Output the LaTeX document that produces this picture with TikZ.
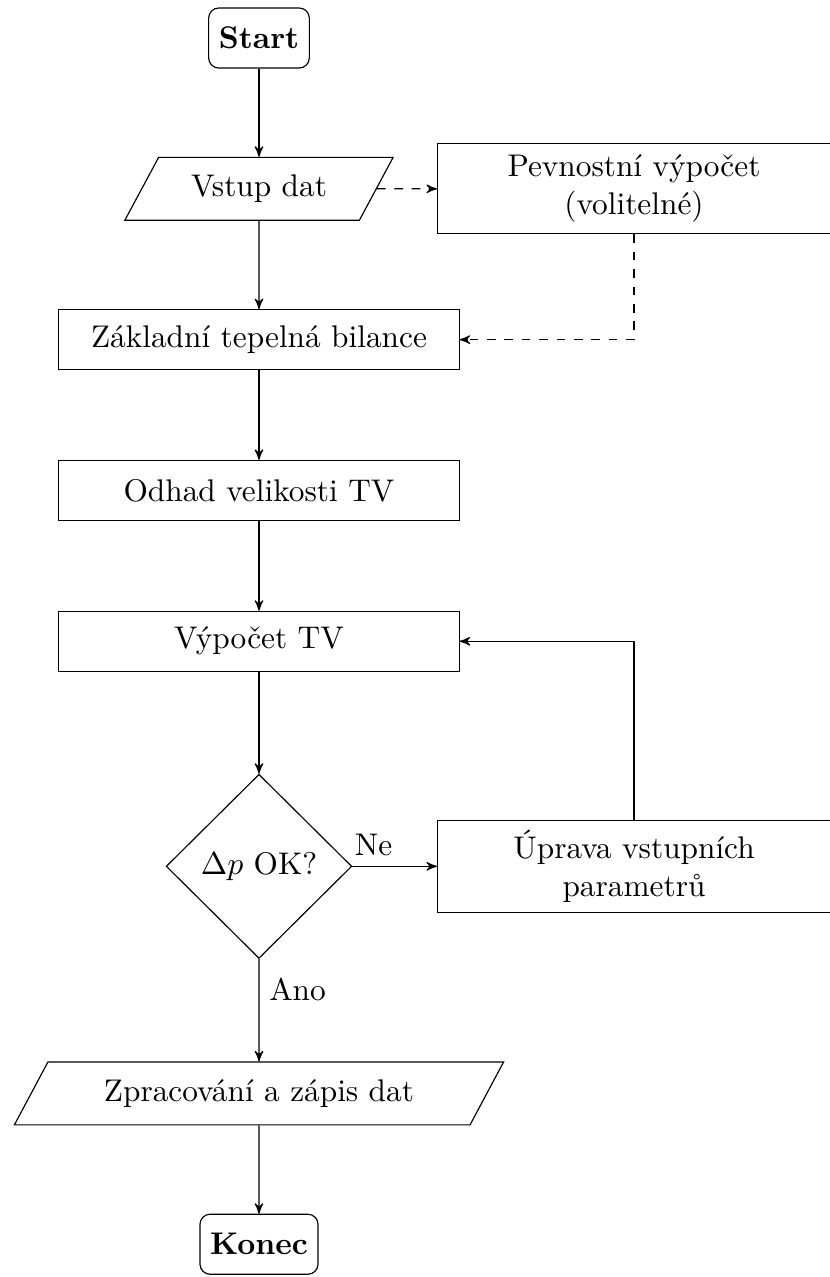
\documentclass[tikz,border=0pt]{standalone}
\usetikzlibrary{positioning,arrows,shapes.geometric}
\tikzset{
diagram/.style={
    >=stealth',
    auto,
    node distance=52pt,
    thin,
    font=\fontsize{10.8pt}{13pt}\selectfont
},
okraj/.style={
    rectangle,
    draw,
    rounded corners=3.5pt,
    inner xsep=3.5pt,
    minimum height=20.7pt,
    font=\fontsize{10.8pt}{13pt}\selectfont\bfseries
},
krok/.style={
    rectangle,
    draw,
    minimum width=138pt,
    minimum height=20.7pt
},
vedlejsi/.style={
    rectangle,
    draw,
    align=center,
    minimum width=135.5pt,
    minimum height=31pt
},
data/.style={
    trapezium,
    draw,
    trapezium left angle=61,
    trapezium right angle=119,
    trapezium stretches=true,
    minimum height=21.7pt
},
rozhod/.style={
    diamond,
    draw,
    aspect=1,
    minimum width=64pt,
    minimum height=63.5pt
},
tok/.style={
    ->
},
volitelny/.style={
    ->,
    dashed
}}

\begin{document}
\begin{tikzpicture}[diagram]
\useasboundingbox (-89.3pt,13.1pt) rectangle (196.6pt,-427.2pt);
\node[okraj]    (start)                                       {Start};
\node[data, minimum width=93pt]  (vstup)  [below of=start]   {Vstup dat};
\node[krok]     (bilance)  [below of=vstup]                    {Základní tepelná bilance};
\node[krok]     (odhad)    [below of=bilance]                  {Odhad velikosti TV};
\node[krok]     (vypocet)  [below of=odhad]                    {Výpočet TV};
\node[rozhod]   (dp)       [node distance=77.6pt, below of=vypocet] {$\Delta p$ OK?};
\node[data, minimum width=169pt] (zapis) [node distance=78.3pt, below of=dp] {Zpracování a zápis dat};
\node[okraj]    (konec)    [below of=zapis]                    {Konec};
\node[vedlejsi] (pevnost)  [node distance=129.3pt, right of=vstup] {Pevnostní výpočet\\(volitelné)};
\node[vedlejsi] (uprava)   [node distance=129.3pt, right of=dp]    {Úprava vstupních\\parametrů};

\path    (start)    edge[tok]    (vstup);
\path    (vstup)    edge[tok]    (bilance);
\path    (bilance)  edge[tok]    (odhad);
\path    (odhad)    edge[tok]    (vypocet);
\path    (vypocet)  edge[tok]    (dp);
\path    (dp)       edge[tok]    node[pos=0.25] {Ne} (uprava);
\path    (dp)       edge[tok]    node[pos=0.3] {Ano} (zapis);
\path    (zapis)    edge[tok]    (konec);
\path    (vstup)    edge[volitelny]    (pevnost);
\draw[volitelny]    (pevnost) |- (bilance);
\draw[tok]          (uprava)  |- (vypocet);
\end{tikzpicture}
\end{document}
